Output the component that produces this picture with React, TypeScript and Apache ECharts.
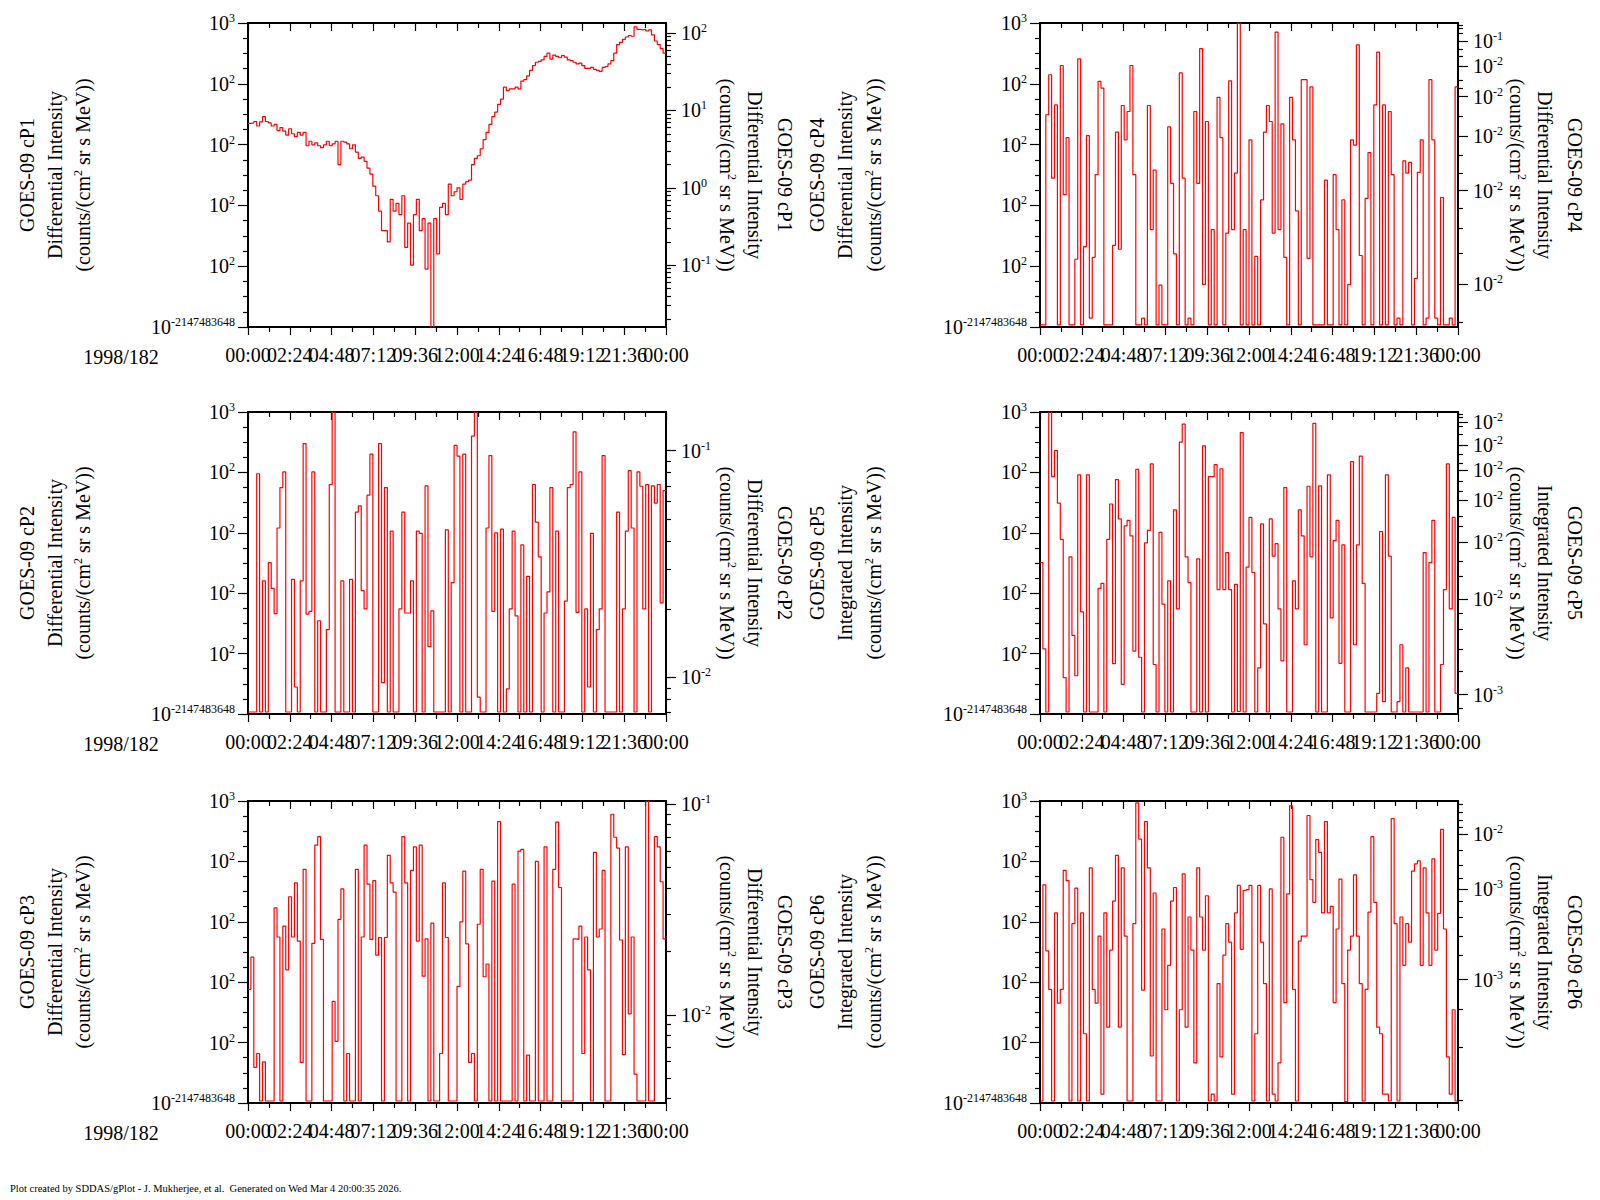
import React, { useEffect, useRef } from 'react';
import * as echarts from 'echarts';

// ---------------- data ----------------
const F = 0.0108; // no-count floor level
const BIN_MINUTES = 10;
const DAY_MINUTES = 1440;

const cP1 = [
  6.8, 6.9, 7.2, 6.3, 7.1, 8.3, 7.2, 6.9, 6.3, 6.6,
  5.5, 6.0, 5.4, 4.8, 5.8, 5.0, 4.6, 5.2, 4.8, 5.2,
  3.5, 4.0, 3.6, 3.8, 3.5, 3.3, 3.6, 4.0, 3.5, 3.7,
  4.0, 2.0, 4.0, 3.9, 3.7, 3.2, 3.6, 2.9, 2.4, 2.5,
  2.2, 1.8, 1.5, 1.05, 0.79, 0.5, 0.28, 0.28, 0.2, 0.71,
  0.5, 0.63, 0.45, 0.79, 0.17, 0.35, 0.1, 0.45, 0.71, 0.28,
  0.4, 0.089, 0.35, 0.01, 0.4, 0.14, 0.56, 0.63, 0.45, 1.12,
  0.79, 0.89, 1.0, 0.71, 1.12, 1.2, 1.26, 2.0, 2.4, 2.6,
  3.2, 4.2, 5.2, 6.6, 8.3, 9.5, 12, 14, 20, 18,
  19, 19, 20, 19, 24, 25, 28, 33, 38, 42,
  43, 45, 50, 55, 46, 52, 50, 48, 51, 49,
  45, 44, 42, 40, 41, 38, 35, 35, 36, 34,
  33, 32, 36, 37, 40, 44, 55, 71, 76, 83,
  89, 93, 91, 120, 112, 110, 112, 107, 110, 95,
  79, 71, 63, 55,
];

const cP2 = [
  F, F, F, 95, F, 1.6, F, 3.2, 1.2, 0.46,
  12, 56, 102, F, F, 1.7, 0.028, F, 1.6, 300,
  0.45, 0.5, 102, F, 0.35, F, F, 0.25, 63, 1000,
  F, F, 1.6, F, F, 1.7, F, 22, 28, 1.1,
  0.55, 42, 200, F, F, 300, 0.033, 56, F, 10.7,
  F, F, 0.55, 22, 0.47, 0.47, 1.6, F, 10.7, 9.8,
  F, 60, 0.13, 0.51, F, F, F, F, 11.2, F,
  1.5, 280, 186, F, 200, F, F, 400, 1000, 0.019,
  F, F, 12, 190, 0.5, 10, F, 11.5, F, 0.026,
  0.55, 10.7, 0.42, F, 6.3, F, 1.9, F, 63, 15,
  4.0, F, 0.47, 1.05, 56, F, 10.7, F, F, 0.74,
  56, 63, 470, 0.48, 102, F, 0.55, 0.028, 9.8, F,
  0.25, 0.55, 190, F, F, F, F, 22, F, 0.55,
  10.7, 107, 12, F, 102, 59, 0.55, 63, F, 60,
  31, 63, 0.69, 50,
];

const cP3 = [
  0.76, 2.6, 0.039, 0.066, F, 0.048, F, F, F, 17,
  5.6, F, 8.5, 1.6, 26, 5.6, 44, 4.8, 0.047, 74,
  F, F, 4.4, 186, 257, 5.1, F, F, F, 0.48,
  0.105, 11, 35, F, 0.066, F, F, 74, F, 5.6,
  186, 42, 5.1, 48, 2.8, 5.5, F, 5.5, 126, 44,
  31, F, F, 257, 44, F, 71, 174, 4.8, 186,
  1.26, 5.2, F, 9.5, F, F, 0.066, 44, 5.5, F,
  F, F, 0.85, 10, 69, 4.3, 0.047, 0.066, F, 9.1,
  74, 1.23, 2.0, F, 47, F, 457, F, F, F,
  F, 42, F, 148, 158, F, 0.062, F, F, 100,
  F, F, 174, F, F, 74, 447, 37, F, F,
  F, F, 5.2, 5.1, 8.5, 0.066, 5.6, 1.6, F, 141,
  5.6, 7.6, 71, F, F, 603, 251, 166, 5.0, 0.063,
  174, 0.3, 5.6, 0.03, F, F, F, 1000, F, F,
  257, 174, 46, 5.2,
];

const cP4 = [
  F, F, 31, 141, 2.8, 45, F, 200, 1.5, 13,
  F, F, 0.13, 257, F, 0.21, 14, 0.014, 0.14, 3.2,
  110, 85, F, F, F, 0.22, 16, 0.19, 44, 12,
  35, 200, 3.2, F, F, 0.014, F, 44, 0.4, 3.8,
  F, 0.049, F, F, 19.5, 2.3, 0.16, F, 151, 2.8,
  F, 0.014, F, 35, 2.3, 380, 0.05, 24, F, 0.4,
  F, 60, 13, F, 0.35, 112, 0.4, 3.4, 1000, F,
  0.4, F, 12, F, 0.145, F, 1.23, 16, 44, 24,
  0.35, 708, 0.4, 22, 0.14, F, 60, 12, 0.81, F,
  117, 117, 0.135, 89, F, F, F, F, 2.6, F,
  F, 3.2, 0.4, F, 1.23, F, 0.05, 12, 9.8, 437,
  0.15, F, 1.3, 7.4, F, 45, 331, F, 45, F,
  35, 3.2, F, 0.014, F, 5.4, 3.4, 5.1, F, 0.063,
  3.5, 12, F, 0.014, 117, 12, 0.014, F, 1.35, F,
  F, 0.014, F, 89,
];

const cP5 = [
  3.2, 0.12, F, 1000, 85, 229, 31, 7.8, 0.04, F,
  4.0, 0.2, 0.043, 91, 0.49, F, 91, F, F, F,
  1.2, 1.45, F, 7.8, 30, 0.068, 76, 17, 0.031, 13,
  16, 8.9, 0.11, 112, 0.087, F, 6.8, 11, 138, 0.066,
  F, 10.2, 0.66, F, 1.6, F, 24, 0.55, 316, 631,
  4.0, 1.5, F, F, 3.7, F, 275, F, 85, 85,
  135, 1.15, 115, 1.15, 4.7, 1.15, F, 1.4, 0.011, 457,
  F, 2.7, 18, 2.2, F, 0.058, 14, 0.31, F, 17,
  4.1, 6.6, 0.55, 0.076, 56, F, F, 1.6, 0.55, 24,
  8.9, 0.14, 59, 4.0, 646, F, 60, F, F, 91,
  0.39, 7.4, 16, 0.069, 6.3, F, F, 151, 0.14, 6.3,
  186, 1.45, F, F, F, F, 0.022, 10.5, 0.016, 91,
  4.1, F, F, 0.016, 0.14, F, 0.058, F, F, F,
  F, F, 4.7, F, 3.2, 16, F, F, 0.066, 1.15,
  138, 0.55, 18, 0.022,
];

const cP6 = [
  F, 41, 3.3, 0.76, F, 14, 0.45, 0.76, 71, 48,
  F, 9.3, 36, F, 14, 0.14, F, 78, 0.76, 0.45,
  5.8, 0.014, 14, 0.18, 3.4, 22, 126, 0.18, 78, 5.8,
  F, F, 9.3, 933, 234, 0.74, 457, 78, 0.06, 30,
  F, F, 7.6, 0.35, 1.9, 22, 37, F, 0.35, 62,
  0.18, 12, 3.4, 0.046, 78, 12, 3.4, 27, F, 0.014,
  F, 0.95, 0.058, 2.8, 9.3, 4.6, 0.014, 14, 40, 3.5,
  33, 34, 40, F, 0.14, 40, 4.6, 0.95, F, 35,
  0.014, F, 0.046, 251, 0.46, 29, 832, 0.76, F, 4.8,
  5.8, 5.8, 575, 50, 21, 229, 141, 14, 457, 14,
  18, 0.46, 7.6, 51, 0.95, 0.0105, 3.4, 5.8, 60, 5.8,
  0.95, F, 0.76, 14.5, 257, 21, 0.18, 0.14, 0.014, 0.014,
  F, 513, 9.3, F, 12, 1.9, 9.3, 4.6, 69, 91,
  102, 1.9, 78, 14, 1.9, 110, 3.4, 13.8, 339, 7.6,
  0.058, 0.014, 0.35, F,
];

// x-axis tick labels (minutes of day), split in two alternating sets
const X_LABELS_A = [0, 288, 576, 864, 1152, 1440];
const X_LABELS_B = [144, 432, 720, 1008, 1296];

// left axis (as printed by the source plot)
const LEFT_MIN = 0.01;
const LEFT_MAX = 1000;
const LEFT_LABEL_VALUES = [0.0100001, 0.1, 1, 10, 100, 999.999];

// right axes: ranges, label values, minor tick values
const R1_RANGE = [0.0159, 135];
const R1_LABELS = [0.1, 1, 10, 100];
const R2_RANGE = [0.0069, 0.148];
const R2_LABELS = [0.01, 0.1];
const R3_RANGE = [0.00381, 0.1037];
const R3_LABELS = [0.01, 0.1];
const R4_RANGE = [0.00668, 0.119];
const R4_LABELS = [0.01, 0.0243, 0.0408, 0.0593, 0.0789, 0.1];
const R4_MINOR = [0.117, 0.1135, 0.108, 0.0925, 0.0867, 0.0695, 0.0642, 0.0491, 0.0341, 0.0287, 0.0206, 0.017, 0.0134, 0.007];
const R5_RANGE = [0.0024, 0.1019];
const R5_LABELS = [0.00305, 0.01, 0.0202, 0.034, 0.0493, 0.0673, 0.09];
const R5_MINOR = [0.0993, 0.0953, 0.0852, 0.0775, 0.06, 0.0541, 0.043, 0.038, 0.0279, 0.0246, 0.016, 0.0132, 0.0084, 0.00683, 0.00537, 0.00407, 0.00258];
const R6_RANGE = [0.000142, 0.0169];
const R6_LABELS = [0.001, 0.0042, 0.01];
const R6_MINOR = [0.016, 0.0142, 0.0125, 0.0111, 0.0077, 0.0061, 0.005, 0.00344, 0.00268, 0.00199, 0.00147, 0.00063, 0.000345, 0.000149];

const DATE_LABEL = '1998/182';
const FOOTER = 'Plot created by SDDAS/gPlot - J. Mukherjee, et al.  Generated on Wed Mar 4 20:00:35 2026.';

// ---------------- helpers ----------------
const FONT = 'Liberation Serif';

function stdLogMinor(min: number, max: number): number[] {
  const out: number[] = [];
  for (let k = Math.floor(Math.log10(min)) - 1; k <= Math.ceil(Math.log10(max)); k++) {
    for (let m = 2; m <= 9; m++) {
      const v = m * Math.pow(10, k);
      if (v > min && v < max) out.push(v);
    }
  }
  return out;
}

function leftMinor(): number[] {
  const out: number[] = [];
  for (let k = -2; k < 3; k++) {
    for (let j = 1; j <= 3; j++) out.push(Math.pow(10, k + j / 4));
  }
  return out;
}

const PANELS = [
  { name: 'cP1', kind: 'Differential', values: cP1, col: 0, row: 0, onRight: true, range: R1_RANGE, labels: R1_LABELS, minor: stdLogMinor(R1_RANGE[0], R1_RANGE[1]) },
  { name: 'cP2', kind: 'Differential', values: cP2, col: 0, row: 1, onRight: false, range: R2_RANGE, labels: R2_LABELS, minor: stdLogMinor(R2_RANGE[0], R2_RANGE[1]) },
  { name: 'cP3', kind: 'Differential', values: cP3, col: 0, row: 2, onRight: false, range: R3_RANGE, labels: R3_LABELS, minor: stdLogMinor(R3_RANGE[0], R3_RANGE[1]) },
  { name: 'cP4', kind: 'Differential', values: cP4, col: 1, row: 0, onRight: false, range: R4_RANGE, labels: R4_LABELS, minor: R4_MINOR },
  { name: 'cP5', kind: 'Integrated', values: cP5, col: 1, row: 1, onRight: false, range: R5_RANGE, labels: R5_LABELS, minor: R5_MINOR },
  { name: 'cP6', kind: 'Integrated', values: cP6, col: 1, row: 2, onRight: false, range: R6_RANGE, labels: R6_LABELS, minor: R6_MINOR },
];

const COL_LEFT = [248, 1040];
const GRID_W = 418;
const ROWS = [
  { top: 23, height: 304 },
  { top: 412, height: 302 },
  { top: 801, height: 302 },
];

const RICH = {
  b: { fontSize: 20, fontFamily: FONT, color: '#000', lineHeight: 22 },
  s: { fontSize: 12, fontFamily: FONT, color: '#000', verticalAlign: 'top', lineHeight: 10 },
};
const TITLE_RICH = {
  t: { fontSize: 20, fontFamily: FONT, fill: '#000', color: '#000', lineHeight: 22 },
  u: { fontSize: 12, fontFamily: FONT, fill: '#000', color: '#000', verticalAlign: 'top', lineHeight: 10 },
};

function fmtTime(v: number): string {
  const m = Math.round(v) % DAY_MINUTES;
  const h = Math.floor(m / 60);
  const mm = m % 60;
  return (h < 10 ? '0' : '') + h + ':' + (mm < 10 ? '0' : '') + mm;
}

function expLabel(v: number): string {
  return '{b|10}{s|' + Math.floor(Math.log10(v) + 1e-6) + '}';
}

function leftLabel(v: number): string {
  if (v > 500) return '{b|10}{s|3}';
  if (v < 0.0105) return '{b|10}{s|-2147483648}';
  return '{b|10}{s|2}';
}

const TICK_STYLE = { color: '#000', width: 1.2 };

function xLabelStyle(values: number[]) {
  return {
    show: true, customValues: values, formatter: fmtTime, margin: 18, color: '#000',
    fontFamily: FONT, fontSize: 20, hideOverlap: false, showMinLabel: true, showMaxLabel: true,
  };
}

function buildOption() {
  const grid: any[] = [];
  const xAxis: any[] = [];
  const yAxis: any[] = [];
  const series: any[] = [];
  const graphic: any[] = [];
  const leftMinorVals = leftMinor();

  PANELS.forEach((p, gi) => {
    const left = COL_LEFT[p.col];
    const { top, height } = ROWS[p.row];
    grid.push({
      left, top, width: GRID_W, height,
      show: true, borderColor: '#000', borderWidth: 2, backgroundColor: 'transparent',
      containLabel: false, outerBoundsMode: 'none',
    });

    const xb = xAxis.length;
    xAxis.push({
      type: 'value', gridIndex: gi, position: 'bottom', min: 0, max: DAY_MINUTES, interval: 144,
      axisLine: { show: false, onZero: false }, splitLine: { show: false },
      axisTick: { show: true, length: 8, lineStyle: TICK_STYLE },
      minorTick: { show: true, splitNumber: 2, length: 5, lineStyle: TICK_STYLE },
      axisLabel: xLabelStyle(X_LABELS_A),
    });
    xAxis.push({
      type: 'value', gridIndex: gi, position: 'bottom', offset: 0, min: 0, max: DAY_MINUTES, interval: 144,
      axisLine: { show: false, onZero: false }, splitLine: { show: false },
      axisTick: { show: false },
      axisLabel: xLabelStyle(X_LABELS_B),
    });
    xAxis.push({
      type: 'value', gridIndex: gi, position: 'top', min: 0, max: DAY_MINUTES, interval: 144,
      axisLine: { show: false, onZero: false }, splitLine: { show: false },
      axisTick: { show: true, inside: true, length: 8, lineStyle: TICK_STYLE },
      minorTick: { show: true, splitNumber: 2, length: 5, lineStyle: TICK_STYLE },
      axisLabel: { show: false },
    });

    const yl = yAxis.length;
    yAxis.push({
      type: 'log', logBase: 10, gridIndex: gi, position: 'left', min: LEFT_MIN, max: LEFT_MAX,
      axisLine: { show: false, onZero: false }, splitLine: { show: false },
      axisTick: { show: true, length: 10, lineStyle: TICK_STYLE, customValues: LEFT_LABEL_VALUES },
      axisLabel: { show: true, customValues: LEFT_LABEL_VALUES, formatter: leftLabel, margin: 13, rich: RICH, hideOverlap: false },
    });
    yAxis.push({
      type: 'log', logBase: 10, gridIndex: gi, position: 'left', min: LEFT_MIN, max: LEFT_MAX,
      axisLine: { show: false, onZero: false }, splitLine: { show: false },
      axisTick: { show: true, length: 5, lineStyle: TICK_STYLE, customValues: leftMinorVals },
      axisLabel: { show: false },
    });
    const yr = yAxis.length;
    yAxis.push({
      type: 'log', logBase: 10, gridIndex: gi, position: 'right', min: p.range[0], max: p.range[1],
      axisLine: { show: false, onZero: false }, splitLine: { show: false },
      axisTick: { show: true, length: 10, lineStyle: TICK_STYLE, customValues: p.labels },
      axisLabel: { show: true, customValues: p.labels, formatter: expLabel, margin: 15, rich: RICH, hideOverlap: false },
    });
    yAxis.push({
      type: 'log', logBase: 10, gridIndex: gi, position: 'right', min: p.range[0], max: p.range[1],
      axisLine: { show: false, onZero: false }, splitLine: { show: false },
      axisTick: { show: true, length: 5, lineStyle: TICK_STYLE, customValues: p.minor },
      axisLabel: { show: false },
    });

    const data: number[][] = p.values.map((v, i) => [i * BIN_MINUTES, v]);
    data.push([DAY_MINUTES, p.values[p.values.length - 1]]);
    series.push({
      type: 'line', name: p.name, xAxisIndex: xb, yAxisIndex: p.onRight ? yr : yl,
      data, step: 'end', symbol: 'none', showSymbol: false, clip: true, silent: true,
      lineStyle: { color: '#ff0000', width: 1.2 }, itemStyle: { color: '#ff0000' },
    });

    // titles
    const cy = top + height / 2;
    const l1 = 'GOES-09 ' + p.name;
    const l2 = p.kind + ' Intensity';
    const l3 = '{t|(counts/(cm}{u|2}{t| sr s MeV))}';
    const mk = (text: string, x: number, rot: number) => ({
      type: 'text', x, y: cy, rotation: rot, silent: true,
      style: { text, fill: '#000', fontSize: 20, fontFamily: FONT, align: 'center', verticalAlign: 'middle', rich: TITLE_RICH },
    });
    const leftXs = p.col === 0 ? [27, 55, 83] : [817, 845, 874];
    const rightXs = p.col === 0 ? [727, 755, 785] : [1517, 1545, 1575];
    graphic.push(mk('{t|' + l1 + '}', leftXs[0], Math.PI / 2));
    graphic.push(mk('{t|' + l2 + '}', leftXs[1], Math.PI / 2));
    graphic.push(mk(l3, leftXs[2], Math.PI / 2));
    graphic.push(mk(l3, rightXs[0], -Math.PI / 2));
    graphic.push(mk('{t|' + l2 + '}', rightXs[1], -Math.PI / 2));
    graphic.push(mk('{t|' + l1 + '}', rightXs[2], -Math.PI / 2));

    if (p.col === 0) {
      graphic.push({
        type: 'text', x: 121, y: top + height + 30, silent: true,
        style: { text: DATE_LABEL, fill: '#000', fontSize: 20, fontFamily: FONT, align: 'center', verticalAlign: 'middle' },
      });
    }
  });

  graphic.push({
    type: 'text', x: 10, y: 1188, silent: true,
    style: { text: FOOTER, fill: '#000', fontSize: 10.5, fontFamily: FONT, align: 'left', verticalAlign: 'middle' },
  });

  return {
    animation: false,
    backgroundColor: '#ffffff',
    textStyle: { fontFamily: FONT },
    grid, xAxis, yAxis, series, graphic,
  };
}

export default function App() {
  const ref = useRef<HTMLDivElement>(null);
  useEffect(() => {
    if (!ref.current) return;
    const chart = echarts.init(ref.current, undefined, { renderer: 'svg' });
    chart.setOption(buildOption() as any);
    return () => chart.dispose();
  }, []);
  return (
    <div
      ref={ref}
      style={{ position: 'absolute', left: 0, top: 0, width: 1600, height: 1200, background: '#fff' }}
    />
  );
}
